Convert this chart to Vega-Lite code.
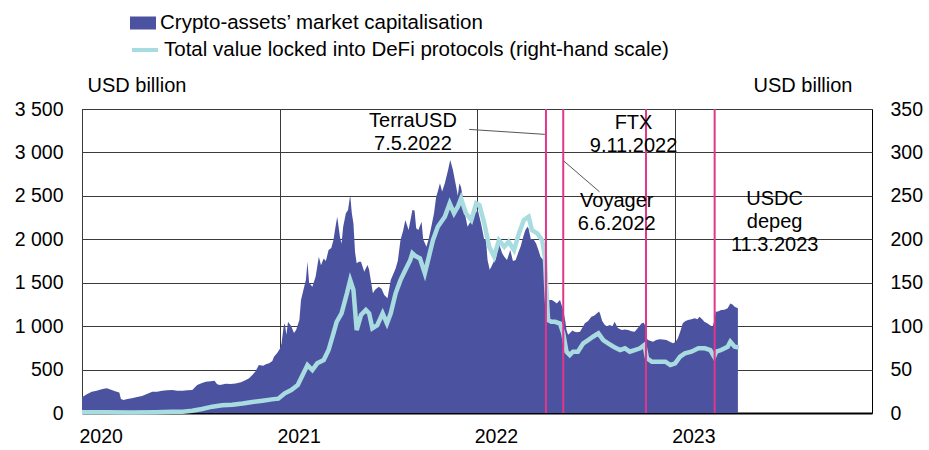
{
  "$schema": "https://vega.github.io/schema/vega-lite/v6.json",
  "width": 790,
  "height": 304,
  "autosize": {"type": "none"},
  "padding": {"left": 82, "top": 109, "right": 57, "bottom": 37},
  "background": "white",
  "config": {
    "font": "Liberation Sans",
    "view": {"stroke": "#000000", "strokeWidth": 1},
    "axis": {"labelFontSize": 19.5, "labelColor": "#000000", "titleFontSize": 20, "titleFontWeight": "normal", "titleColor": "#000000", "ticks": false, "tickSize": 0, "domain": false},
    "legend": {"labelFontSize": 20.5, "labelColor": "#000000", "labelLimit": 800, "padding": 0}
  },
  "datasets": {
    "mcap": [
      {"date": "2020-01-01", "v": 181}, {"date": "2020-01-10", "v": 215}, {"date": "2020-01-19", "v": 245}, {"date": "2020-01-28", "v": 255},
      {"date": "2020-02-08", "v": 275}, {"date": "2020-02-16", "v": 284}, {"date": "2020-02-25", "v": 265}, {"date": "2020-03-05", "v": 245},
      {"date": "2020-03-10", "v": 235}, {"date": "2020-03-13", "v": 160}, {"date": "2020-03-18", "v": 150}, {"date": "2020-03-25", "v": 160},
      {"date": "2020-04-02", "v": 169}, {"date": "2020-04-12", "v": 185}, {"date": "2020-04-21", "v": 196}, {"date": "2020-04-30", "v": 220},
      {"date": "2020-05-10", "v": 245}, {"date": "2020-05-19", "v": 245}, {"date": "2020-05-28", "v": 257}, {"date": "2020-06-06", "v": 262},
      {"date": "2020-06-16", "v": 265}, {"date": "2020-06-25", "v": 255}, {"date": "2020-07-05", "v": 257}, {"date": "2020-07-14", "v": 262},
      {"date": "2020-07-23", "v": 265}, {"date": "2020-08-01", "v": 322}, {"date": "2020-08-10", "v": 345}, {"date": "2020-08-17", "v": 360},
      {"date": "2020-08-26", "v": 365}, {"date": "2020-09-02", "v": 372}, {"date": "2020-09-07", "v": 330}, {"date": "2020-09-12", "v": 322},
      {"date": "2020-09-23", "v": 337}, {"date": "2020-10-02", "v": 335}, {"date": "2020-10-11", "v": 341}, {"date": "2020-10-21", "v": 355},
      {"date": "2020-10-30", "v": 380}, {"date": "2020-11-05", "v": 400}, {"date": "2020-11-11", "v": 437}, {"date": "2020-11-17", "v": 480},
      {"date": "2020-11-23", "v": 552}, {"date": "2020-12-01", "v": 545}, {"date": "2020-12-06", "v": 560}, {"date": "2020-12-12", "v": 572},
      {"date": "2020-12-18", "v": 600}, {"date": "2020-12-21", "v": 648}, {"date": "2020-12-27", "v": 690}, {"date": "2021-01-01", "v": 740},
      {"date": "2021-01-04", "v": 800}, {"date": "2021-01-08", "v": 1000}, {"date": "2021-01-10", "v": 1032}, {"date": "2021-01-13", "v": 900},
      {"date": "2021-01-16", "v": 1051}, {"date": "2021-01-22", "v": 1000}, {"date": "2021-01-27", "v": 920}, {"date": "2021-01-31", "v": 955},
      {"date": "2021-02-06", "v": 1070}, {"date": "2021-02-09", "v": 1300}, {"date": "2021-02-12", "v": 1378}, {"date": "2021-02-18", "v": 1531},
      {"date": "2021-02-21", "v": 1741}, {"date": "2021-02-24", "v": 1500}, {"date": "2021-03-02", "v": 1454}, {"date": "2021-03-08", "v": 1569},
      {"date": "2021-03-14", "v": 1799}, {"date": "2021-03-18", "v": 1700}, {"date": "2021-03-23", "v": 1780}, {"date": "2021-03-27", "v": 1750},
      {"date": "2021-04-01", "v": 1876}, {"date": "2021-04-06", "v": 1900}, {"date": "2021-04-10", "v": 1991}, {"date": "2021-04-14", "v": 2150},
      {"date": "2021-04-17", "v": 2259}, {"date": "2021-04-22", "v": 2029}, {"date": "2021-04-25", "v": 1950}, {"date": "2021-04-28", "v": 2144},
      {"date": "2021-05-03", "v": 2300}, {"date": "2021-05-07", "v": 2337}, {"date": "2021-05-11", "v": 2509}, {"date": "2021-05-14", "v": 2300},
      {"date": "2021-05-17", "v": 2183}, {"date": "2021-05-20", "v": 1850}, {"date": "2021-05-23", "v": 1723}, {"date": "2021-05-27", "v": 1741},
      {"date": "2021-05-31", "v": 1741}, {"date": "2021-06-06", "v": 1626}, {"date": "2021-06-12", "v": 1703}, {"date": "2021-06-15", "v": 1650},
      {"date": "2021-06-18", "v": 1531}, {"date": "2021-06-22", "v": 1378}, {"date": "2021-06-26", "v": 1420}, {"date": "2021-07-03", "v": 1454},
      {"date": "2021-07-08", "v": 1430}, {"date": "2021-07-13", "v": 1358}, {"date": "2021-07-19", "v": 1320}, {"date": "2021-07-25", "v": 1531},
      {"date": "2021-08-03", "v": 1665}, {"date": "2021-08-07", "v": 1750}, {"date": "2021-08-12", "v": 1991}, {"date": "2021-08-17", "v": 2100},
      {"date": "2021-08-21", "v": 2221}, {"date": "2021-08-27", "v": 2106}, {"date": "2021-09-03", "v": 2337}, {"date": "2021-09-07", "v": 2330},
      {"date": "2021-09-10", "v": 2126}, {"date": "2021-09-14", "v": 2106}, {"date": "2021-09-20", "v": 2202}, {"date": "2021-09-23", "v": 2000},
      {"date": "2021-09-29", "v": 1914}, {"date": "2021-10-03", "v": 2000}, {"date": "2021-10-08", "v": 2144}, {"date": "2021-10-13", "v": 2300},
      {"date": "2021-10-17", "v": 2490}, {"date": "2021-10-20", "v": 2550}, {"date": "2021-10-24", "v": 2644}, {"date": "2021-10-28", "v": 2550},
      {"date": "2021-11-02", "v": 2644}, {"date": "2021-11-08", "v": 2797}, {"date": "2021-11-12", "v": 2912}, {"date": "2021-11-17", "v": 2797},
      {"date": "2021-11-20", "v": 2700}, {"date": "2021-11-23", "v": 2605}, {"date": "2021-11-26", "v": 2500}, {"date": "2021-11-29", "v": 2644},
      {"date": "2021-12-02", "v": 2600}, {"date": "2021-12-05", "v": 2490}, {"date": "2021-12-09", "v": 2300}, {"date": "2021-12-14", "v": 2144},
      {"date": "2021-12-19", "v": 2200}, {"date": "2021-12-24", "v": 2221}, {"date": "2021-12-28", "v": 2300}, {"date": "2022-01-02", "v": 2337},
      {"date": "2022-01-08", "v": 2183}, {"date": "2022-01-14", "v": 1991}, {"date": "2022-01-17", "v": 2000}, {"date": "2022-01-20", "v": 1761},
      {"date": "2022-01-24", "v": 1650}, {"date": "2022-01-27", "v": 1684}, {"date": "2022-02-01", "v": 1750}, {"date": "2022-02-04", "v": 1761},
      {"date": "2022-02-10", "v": 1953}, {"date": "2022-02-16", "v": 1838}, {"date": "2022-02-20", "v": 1800}, {"date": "2022-02-25", "v": 1761},
      {"date": "2022-03-03", "v": 1876}, {"date": "2022-03-08", "v": 1750}, {"date": "2022-03-13", "v": 1761}, {"date": "2022-03-18", "v": 1850},
      {"date": "2022-03-22", "v": 1914}, {"date": "2022-03-28", "v": 2050}, {"date": "2022-03-31", "v": 2106}, {"date": "2022-04-04", "v": 2144},
      {"date": "2022-04-06", "v": 2120}, {"date": "2022-04-10", "v": 2000}, {"date": "2022-04-15", "v": 2000}, {"date": "2022-04-20", "v": 1950},
      {"date": "2022-04-24", "v": 1876}, {"date": "2022-04-28", "v": 1800}, {"date": "2022-05-03", "v": 1761}, {"date": "2022-05-06", "v": 1700},
      {"date": "2022-05-08", "v": 1550}, {"date": "2022-05-10", "v": 1339}, {"date": "2022-05-14", "v": 1300}, {"date": "2022-05-19", "v": 1300},
      {"date": "2022-05-24", "v": 1280}, {"date": "2022-05-28", "v": 1262}, {"date": "2022-06-03", "v": 1300}, {"date": "2022-06-09", "v": 1186},
      {"date": "2022-06-13", "v": 1050}, {"date": "2022-06-15", "v": 955}, {"date": "2022-06-18", "v": 900}, {"date": "2022-06-21", "v": 917},
      {"date": "2022-06-26", "v": 950}, {"date": "2022-06-30", "v": 936}, {"date": "2022-07-05", "v": 930}, {"date": "2022-07-10", "v": 936},
      {"date": "2022-07-14", "v": 980}, {"date": "2022-07-19", "v": 1032}, {"date": "2022-07-25", "v": 1060}, {"date": "2022-07-31", "v": 1108},
      {"date": "2022-08-05", "v": 1120}, {"date": "2022-08-10", "v": 1147}, {"date": "2022-08-14", "v": 1170}, {"date": "2022-08-16", "v": 1147},
      {"date": "2022-08-20", "v": 1060}, {"date": "2022-08-25", "v": 1013}, {"date": "2022-08-29", "v": 1000}, {"date": "2022-09-03", "v": 1013},
      {"date": "2022-09-08", "v": 1000}, {"date": "2022-09-12", "v": 1051}, {"date": "2022-09-18", "v": 980}, {"date": "2022-09-25", "v": 955},
      {"date": "2022-10-01", "v": 960}, {"date": "2022-10-07", "v": 955}, {"date": "2022-10-13", "v": 940}, {"date": "2022-10-19", "v": 936},
      {"date": "2022-10-25", "v": 980}, {"date": "2022-11-01", "v": 1032}, {"date": "2022-11-05", "v": 1040}, {"date": "2022-11-08", "v": 1000},
      {"date": "2022-11-10", "v": 860}, {"date": "2022-11-13", "v": 840}, {"date": "2022-11-18", "v": 830}, {"date": "2022-11-22", "v": 821},
      {"date": "2022-11-28", "v": 840}, {"date": "2022-12-04", "v": 848}, {"date": "2022-12-10", "v": 845}, {"date": "2022-12-17", "v": 840},
      {"date": "2022-12-23", "v": 820}, {"date": "2022-12-29", "v": 802}, {"date": "2023-01-03", "v": 820}, {"date": "2023-01-07", "v": 860},
      {"date": "2023-01-12", "v": 950}, {"date": "2023-01-16", "v": 1032}, {"date": "2023-01-21", "v": 1060}, {"date": "2023-01-26", "v": 1070},
      {"date": "2023-02-01", "v": 1080}, {"date": "2023-02-07", "v": 1090}, {"date": "2023-02-12", "v": 1080}, {"date": "2023-02-16", "v": 1108},
      {"date": "2023-02-21", "v": 1080}, {"date": "2023-02-25", "v": 1051}, {"date": "2023-03-03", "v": 1030}, {"date": "2023-03-07", "v": 1013},
      {"date": "2023-03-12", "v": 990}, {"date": "2023-03-15", "v": 1050}, {"date": "2023-03-18", "v": 1166}, {"date": "2023-03-22", "v": 1170},
      {"date": "2023-03-28", "v": 1186}, {"date": "2023-04-03", "v": 1190}, {"date": "2023-04-09", "v": 1205}, {"date": "2023-04-14", "v": 1262},
      {"date": "2023-04-18", "v": 1250}, {"date": "2023-04-22", "v": 1224}, {"date": "2023-04-28", "v": 1205}
    ],
    "tvl": [
      {"date": "2020-01-01", "v": 1}, {"date": "2020-02-15", "v": 1}, {"date": "2020-04-01", "v": 0.7}, {"date": "2020-05-15", "v": 1},
      {"date": "2020-06-16", "v": 1.5}, {"date": "2020-07-05", "v": 1.5}, {"date": "2020-07-23", "v": 2.7}, {"date": "2020-08-10", "v": 4.6},
      {"date": "2020-08-29", "v": 7.3}, {"date": "2020-09-16", "v": 8.8}, {"date": "2020-10-05", "v": 9.6}, {"date": "2020-10-24", "v": 11},
      {"date": "2020-11-11", "v": 12.7}, {"date": "2020-11-30", "v": 14.2}, {"date": "2020-12-17", "v": 15.7}, {"date": "2020-12-29", "v": 16.5},
      {"date": "2021-01-10", "v": 22.6}, {"date": "2021-01-22", "v": 26.5}, {"date": "2021-02-03", "v": 32.2}, {"date": "2021-02-12", "v": 43.7},
      {"date": "2021-02-21", "v": 55.2}, {"date": "2021-03-02", "v": 49.5}, {"date": "2021-03-11", "v": 57.2}, {"date": "2021-03-23", "v": 61},
      {"date": "2021-04-01", "v": 72.5}, {"date": "2021-04-10", "v": 91.7}, {"date": "2021-04-16", "v": 105}, {"date": "2021-04-25", "v": 114.7},
      {"date": "2021-05-05", "v": 137.8}, {"date": "2021-05-11", "v": 153}, {"date": "2021-05-17", "v": 141.6}, {"date": "2021-05-23", "v": 95.5},
      {"date": "2021-05-31", "v": 112.8}, {"date": "2021-06-09", "v": 118.6}, {"date": "2021-06-15", "v": 114.7}, {"date": "2021-06-21", "v": 97.5},
      {"date": "2021-06-30", "v": 101}, {"date": "2021-07-10", "v": 114.7}, {"date": "2021-07-18", "v": 103}, {"date": "2021-07-25", "v": 114.7},
      {"date": "2021-08-03", "v": 137.8}, {"date": "2021-08-12", "v": 153}, {"date": "2021-08-21", "v": 164.6}, {"date": "2021-08-30", "v": 176},
      {"date": "2021-09-03", "v": 183.8}, {"date": "2021-09-08", "v": 181}, {"date": "2021-09-17", "v": 178}, {"date": "2021-09-26", "v": 160.8},
      {"date": "2021-10-02", "v": 176}, {"date": "2021-10-11", "v": 199}, {"date": "2021-10-20", "v": 214.4}, {"date": "2021-11-02", "v": 226},
      {"date": "2021-11-11", "v": 241.4}, {"date": "2021-11-19", "v": 230}, {"date": "2021-11-26", "v": 237.5}, {"date": "2021-12-02", "v": 247},
      {"date": "2021-12-11", "v": 230}, {"date": "2021-12-21", "v": 222}, {"date": "2021-12-30", "v": 241.4}, {"date": "2022-01-05", "v": 239.5},
      {"date": "2022-01-14", "v": 218.3}, {"date": "2022-01-23", "v": 191.4}, {"date": "2022-02-01", "v": 180}, {"date": "2022-02-10", "v": 199},
      {"date": "2022-02-20", "v": 191.4}, {"date": "2022-02-28", "v": 197.2}, {"date": "2022-03-10", "v": 187.6}, {"date": "2022-03-19", "v": 206.8},
      {"date": "2022-03-28", "v": 222}, {"date": "2022-04-06", "v": 226}, {"date": "2022-04-12", "v": 210.6}, {"date": "2022-04-22", "v": 206.8},
      {"date": "2022-05-01", "v": 199}, {"date": "2022-05-06", "v": 180}, {"date": "2022-05-09", "v": 140}, {"date": "2022-05-12", "v": 107},
      {"date": "2022-05-18", "v": 105}, {"date": "2022-05-25", "v": 105}, {"date": "2022-06-03", "v": 103}, {"date": "2022-06-09", "v": 91.7},
      {"date": "2022-06-15", "v": 70.6}, {"date": "2022-06-21", "v": 66.8}, {"date": "2022-06-27", "v": 70.6}, {"date": "2022-07-06", "v": 70.6},
      {"date": "2022-07-16", "v": 80.2}, {"date": "2022-07-25", "v": 84}, {"date": "2022-08-03", "v": 87.8}, {"date": "2022-08-13", "v": 91.7},
      {"date": "2022-08-22", "v": 84}, {"date": "2022-08-31", "v": 80.2}, {"date": "2022-09-10", "v": 76.3}, {"date": "2022-09-22", "v": 72.5},
      {"date": "2022-10-01", "v": 74.5}, {"date": "2022-10-10", "v": 70.6}, {"date": "2022-10-19", "v": 72.5}, {"date": "2022-10-29", "v": 74.5},
      {"date": "2022-11-06", "v": 78.3}, {"date": "2022-11-11", "v": 63}, {"date": "2022-11-20", "v": 59}, {"date": "2022-12-02", "v": 59},
      {"date": "2022-12-15", "v": 59}, {"date": "2022-12-24", "v": 55.2}, {"date": "2023-01-02", "v": 57.2}, {"date": "2023-01-11", "v": 64.8},
      {"date": "2023-01-20", "v": 68.7}, {"date": "2023-02-01", "v": 70.6}, {"date": "2023-02-14", "v": 74.5}, {"date": "2023-02-26", "v": 74.5},
      {"date": "2023-03-08", "v": 72.5}, {"date": "2023-03-15", "v": 64.8}, {"date": "2023-03-19", "v": 70.6}, {"date": "2023-03-28", "v": 72.5},
      {"date": "2023-04-09", "v": 76.3}, {"date": "2023-04-14", "v": 82}, {"date": "2023-04-22", "v": 76.3}, {"date": "2023-04-30", "v": 75.5}
    ],
    "events": [
      {"date": "2022-05-08"}, {"date": "2022-06-09"}, {"date": "2022-11-09"}, {"date": "2023-03-16"}
    ],
    "labels": [
      {"date": "2021-09-04", "v": 3475, "label": "TerraUSD\n7.5.2022"},
      {"date": "2022-10-17", "v": 3450, "label": "FTX\n9.11.2022"},
      {"date": "2022-09-16", "v": 2560, "label": "Voyager\n6.6.2022"},
      {"date": "2023-07-05", "v": 2580, "label": "USDC\ndepeg\n11.3.2023"}
    ],
    "leaders": [
      {"d1": "2021-12-17", "d2": "2022-05-06", "v1": 3265, "v2": 3208},
      {"d1": "2022-06-10", "d2": "2022-08-15", "v1": 2901, "v2": 2547}
    ]
  },
  "layer": [
    {
      "data": {"name": "mcap"},
      "mark": {"type": "area", "opacity": 1, "fillOpacity": 1, "interpolate": "linear"},
      "encoding": {
        "x": {"field": "date", "type": "temporal", "title": null,
              "scale": {"type": "utc", "domain": [{"year": 2020, "month": 1, "date": 1, "utc": true}, {"year": 2024, "month": 1, "date": 1, "utc": true}]},
              "axis": {"values": [{"year": 2020, "month": 1, "date": 1, "utc": true}, {"year": 2021, "month": 1, "date": 1, "utc": true}, {"year": 2022, "month": 1, "date": 1, "utc": true}, {"year": 2023, "month": 1, "date": 1, "utc": true}],
                       "format": "%Y", "labelAlign": "left", "labelOffset": -3, "labelPadding": 14, "grid": true, "gridColor": "#3a3a3a", "gridWidth": 1,
                       "domain": true, "domainColor": "#000000", "domainWidth": 2, "labelFlush": false}},
        "y": {"field": "v", "type": "quantitative", "title": "USD billion",
              "scale": {"domain": [0, 3500], "nice": false},
              "axis": {"values": [0, 500, 1000, 1500, 2000, 2500, 3000, 3500], "labelExpr": "replace(format(datum.value, ','), ',', ' ')",
                       "labelPadding": 19, "grid": true, "gridColor": "#3a3a3a", "gridWidth": 1,
                       "titleAngle": 0, "titleX": 5, "titleY": -24, "titleAlign": "left", "titleBaseline": "middle"}},
        "fill": {"datum": "Crypto-assets’ market capitalisation", "type": "nominal",
                 "scale": {"range": ["#4B53A0"]},
                 "legend": {"orient": "none", "legendX": 48, "legendY": -99, "title": null, "symbolType": "M-1,-0.5H1V0.5H-1Z", "symbolSize": 676, "symbolStrokeWidth": 0, "symbolOpacity": 1, "labelOffset": 4}}
      }
    },
    {
      "data": {"name": "tvl"},
      "mark": {"type": "line", "strokeWidth": 4.5, "interpolate": "linear"},
      "encoding": {
        "x": {"field": "date", "type": "temporal", "title": null, "scale": {"type": "utc"}},
        "y": {"field": "v", "type": "quantitative", "title": "USD billion",
              "scale": {"domain": [0, 350], "nice": false},
              "axis": {"orient": "right", "values": [0, 50, 100, 150, 200, 250, 300, 350], "labelPadding": 18, "grid": false,
                       "titleAngle": 0, "titleX": -20, "titleY": -24, "titleAlign": "right", "titleBaseline": "middle"}},
        "stroke": {"datum": "Total value locked into DeFi protocols (right-hand scale)", "type": "nominal",
                   "scale": {"range": ["#A8DCE0"]},
                   "legend": {"orient": "none", "legendX": 48, "legendY": -74, "title": null, "symbolType": "stroke", "symbolSize": 676, "symbolStrokeWidth": 4, "labelOffset": 4}}
      }
    },
    {
      "data": {"name": "events"},
      "mark": {"type": "rule", "color": "#E2358C", "strokeWidth": 2},
      "encoding": {
        "x": {"field": "date", "type": "temporal", "title": null, "scale": {"type": "utc"}}
      }
    },
    {
      "data": {"name": "leaders"},
      "mark": {"type": "rule", "color": "#555555", "strokeWidth": 1},
      "encoding": {
        "x": {"field": "d1", "type": "temporal", "title": null, "scale": {"type": "utc"}},
        "x2": {"field": "d2"},
        "y": {"field": "v1", "type": "quantitative", "scale": {"domain": [0, 3500], "nice": false}, "axis": null},
        "y2": {"field": "v2"}
      }
    },
    {
      "data": {"name": "labels"},
      "mark": {"type": "text", "fontSize": 20, "lineHeight": 23, "align": "center", "baseline": "top", "lineBreak": "\n", "color": "#000000"},
      "encoding": {
        "x": {"field": "date", "type": "temporal", "title": null, "scale": {"type": "utc"}},
        "y": {"field": "v", "type": "quantitative", "scale": {"domain": [0, 3500], "nice": false}, "axis": null},
        "text": {"field": "label"}
      }
    }
  ],
  "resolve": {"scale": {"y": "independent", "fill": "independent", "stroke": "independent"}}
}
